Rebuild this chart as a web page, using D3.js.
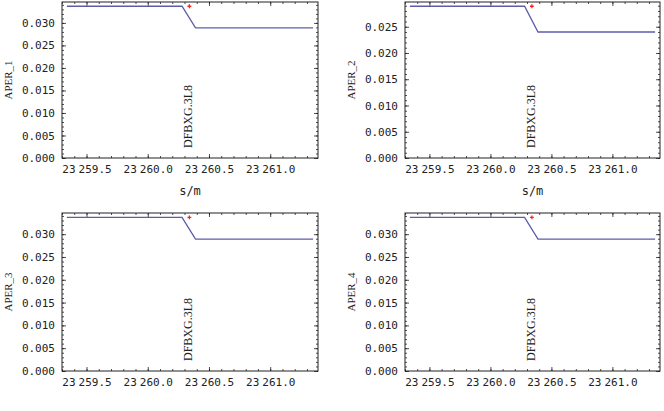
<!DOCTYPE html>
<html>
<head>
<meta charset="utf-8">
<script src="https://cdn.jsdelivr.net/npm/d3@7"></script>
<style>
  body { margin: 0; background: #fff; }
  svg { display: block; }
</style>
</head>
<body>
<svg id="chart" width="664" height="411"></svg>
<script>
// data
const s = [23259.34, 23260.28, 23260.39, 23261.35];
const aper1 = [0.0337, 0.0337, 0.0289, 0.0289];
const aper2 = [0.0289, 0.0289, 0.024, 0.024];
const aper3 = [0.0337, 0.0337, 0.0289, 0.0289];
const aper4 = [0.0337, 0.0337, 0.0289, 0.0289];
const seriesNames = ["APER_1", "APER_2", "APER_3", "APER_4"];
const elementName = "DFBXG.3L8";
const elementS = 23260.34;
const xMajorTicks = [23259.5, 23260.0, 23260.5, 23261.0];
const xTitle = "s/m";

const series = [aper1, aper2, aper3, aper4];

// panel frames
const panels = [
  { left: 62, right: 318, top: 2, bottom: 158, xTitle: true },
  { left: 405, right: 660, top: 2, bottom: 158, xTitle: true },
  { left: 62, right: 318, top: 213, bottom: 371, xTitle: false },
  { left: 405, right: 660, top: 213, bottom: 371, xTitle: false },
];

const svg = d3.select("#chart");
const monoFont = "'DejaVu Sans Mono', monospace";
const serifFont = "'Liberation Serif', 'DejaVu Serif', serif";
const ink = "#222";

const locale = d3.formatLocale({ decimal: ".", thousands: " ", grouping: [3], currency: ["", ""] });
const fmtX = locale.format(",.1f");
const fmtY = d3.format(".3f");

const span = d3.max(s) - d3.min(s);
const xDomain = [d3.min(s) - 0.02 * span, d3.max(s) + 0.02 * span];

// digit groups sit closer than a full monospace space
const splitGroups = (sel) => {
  sel.selectAll(".tick text").each(function () {
    const t = d3.select(this);
    const parts = t.text().split(" ");
    t.text(null);
    parts.forEach((part, k) => {
      t.append("tspan").attr("dx", k ? "3" : null).text(part);
    });
  });
};

series.forEach((vals, i) => {
  const p = panels[i];
  const g = svg.append("g");

  const x = d3.scaleLinear().domain(xDomain).range([p.left, p.right]);
  const yMax = d3.max(vals) * 1.028;
  const y = d3.scaleLinear().domain([0, yMax]).range([p.bottom, p.top]);

  const xMinor = d3.range(Math.ceil(xDomain[0] * 10), Math.floor(xDomain[1] * 10) + 1).map((k) => k / 10);
  const yMinor = d3.range(0, Math.floor(yMax * 1000) + 1).map((k) => k / 1000);
  const yMajor = yMinor.filter((v, k) => k % 5 === 0);

  const styleAxis = (sel) => {
    sel.select(".domain").remove();
    sel.selectAll("line").attr("stroke", ink).attr("stroke-width", 0.8);
    sel.selectAll("text").attr("fill", ink).attr("font-family", monoFont).attr("font-size", "11px");
  };

  // minor ticks on all four sides
  g.append("g").attr("transform", `translate(0,${p.bottom})`)
    .call(d3.axisBottom(x).tickValues(xMinor).tickSizeInner(-2).tickSizeOuter(0).tickFormat(""))
    .call(styleAxis);
  g.append("g").attr("transform", `translate(0,${p.top})`)
    .call(d3.axisTop(x).tickValues(xMinor).tickSizeInner(-2).tickSizeOuter(0).tickFormat(""))
    .call(styleAxis);
  g.append("g").attr("transform", `translate(${p.left},0)`)
    .call(d3.axisLeft(y).tickValues(yMinor).tickSizeInner(-2).tickSizeOuter(0).tickFormat(""))
    .call(styleAxis);
  g.append("g").attr("transform", `translate(${p.right},0)`)
    .call(d3.axisRight(y).tickValues(yMinor).tickSizeInner(-2).tickSizeOuter(0).tickFormat(""))
    .call(styleAxis);

  // major ticks
  g.append("g").attr("transform", `translate(0,${p.bottom})`)
    .call(d3.axisBottom(x).tickValues(xMajorTicks).tickSizeInner(-4).tickSizeOuter(0).tickPadding(7).tickFormat(fmtX))
    .call(styleAxis)
    .call(splitGroups);
  g.append("g").attr("transform", `translate(0,${p.top})`)
    .call(d3.axisTop(x).tickValues(xMajorTicks).tickSizeInner(-4).tickSizeOuter(0).tickFormat(""))
    .call(styleAxis);
  g.append("g").attr("transform", `translate(${p.left},0)`)
    .call(d3.axisLeft(y).tickValues(yMajor).tickSizeInner(-4).tickSizeOuter(0).tickPadding(7).tickFormat(fmtY))
    .call(styleAxis);
  g.append("g").attr("transform", `translate(${p.right},0)`)
    .call(d3.axisRight(y).tickValues(yMajor).tickSizeInner(-4).tickSizeOuter(0).tickFormat(""))
    .call(styleAxis);

  // frame
  g.append("rect")
    .attr("x", p.left).attr("y", p.top)
    .attr("width", p.right - p.left).attr("height", p.bottom - p.top)
    .attr("fill", "none").attr("stroke", ink).attr("stroke-width", 1);

  // aperture line
  const line = d3.line().x((d) => x(d[0])).y((d) => y(d[1]));
  g.append("path")
    .datum(s.map((v, k) => [v, vals[k]]))
    .attr("d", line)
    .attr("fill", "none")
    .attr("stroke", "#5c5cab")
    .attr("stroke-width", 1.3);

  // element marker
  g.append("path")
    .attr("transform", `translate(${x(elementS)},${y(d3.max(vals))})`)
    .attr("d", d3.symbol(d3.symbolCross, 8)())
    .attr("fill", "#f22");

  g.append("text")
    .attr("transform", `translate(${x(elementS) + 3},${p.bottom - 10}) rotate(-90)`)
    .attr("font-family", serifFont)
    .attr("font-size", "12px")
    .attr("fill", ink)
    .text(elementName);

  // y title
  g.append("text")
    .attr("transform", `translate(${p.left - 50},${(p.top + p.bottom) / 2}) rotate(-90)`)
    .attr("text-anchor", "middle")
    .attr("font-family", serifFont)
    .attr("font-size", "11px")
    .attr("fill", ink)
    .text(seriesNames[i]);

  if (p.xTitle) {
    g.append("text")
      .attr("x", (p.left + p.right) / 2)
      .attr("y", p.bottom + 37)
      .attr("text-anchor", "middle")
      .attr("font-family", monoFont)
      .attr("font-size", "12px")
      .attr("fill", ink)
      .text(xTitle);
  }
});
</script>
</body>
</html>
